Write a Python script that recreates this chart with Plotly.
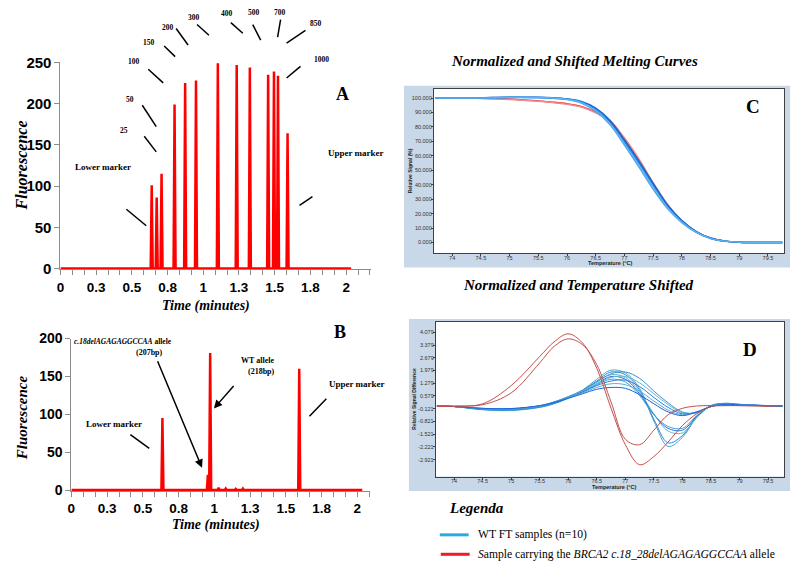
import plotly.graph_objects as go

# ---------------- data ----------------
time_tickvals = [0, 0.25, 0.5, 0.75, 1.0, 1.25, 1.5, 1.75, 2.0]
time_ticktext = ["0", "0.3", "0.5", "0.8", "1", "1.3", "1.5", "1.8", "2"]
run_end = 2.035

# Panel A: size ladder
ladder_times = [0.639, 0.674, 0.708, 0.799, 0.873, 0.949, 1.102, 1.234, 1.326, 1.454, 1.495, 1.523, 1.590]
ladder_fluor = [101, 86, 115, 199, 225, 228, 249, 247, 244, 235, 239, 234, 164]
ladder_labels = ["Lower marker", "25", "50", "100", "150", "200", "300", "400", "500",
                 "700", "850", "1000", "Upper marker"]

# Panel B: sample
sample_times = [0.637, 0.955, 0.971, 1.03, 1.08, 1.15, 1.20, 1.594]
sample_fluor = [95, 20, 181, 3, 2, 1.5, 2, 160]

# Panels C and D: temperatures
temps = [73.7, 74.0, 74.5, 75.0, 75.5, 75.75, 76.0, 76.25, 76.5, 76.75, 77.0,
         77.25, 77.5, 77.75, 78.0, 78.25, 78.5, 78.75, 79.0, 79.5, 79.75]

# Panel C: normalized melting curves (%)
melt_wt = [
    [100, 100, 100.2, 100.5, 100.4, 100.1, 99.3, 97.2, 92.0, 83.0, 69.5, 55.0, 39.5, 25.0, 14.5, 7.3, 3.0, 1.0, 0.3, 0.0, 0.0],
    [100, 100, 100.1, 100.4, 100.3, 99.9, 99.0, 96.6, 91.0, 81.5, 67.5, 52.5, 37.0, 23.5, 13.8, 7.0, 2.8, 0.9, 0.3, 0.0, 0.0],
    [100, 100, 100.2, 100.6, 100.5, 100.2, 99.5, 97.6, 93.0, 84.5, 71.0, 56.5, 41.0, 26.0, 15.2, 7.6, 3.1, 1.0, 0.3, 0.0, 0.0],
    [100, 100, 100.1, 100.5, 100.4, 100.0, 99.2, 97.0, 91.6, 82.2, 68.5, 54.0, 38.5, 24.3, 14.2, 7.2, 2.9, 1.0, 0.3, 0.0, 0.0],
]
melt_mut = [
    [100, 100, 99.9, 99.3, 98.0, 97.2, 96.1, 94.2, 90.2, 83.5, 71.5, 57.0, 41.0, 26.0, 15.0, 7.5, 3.0, 1.0, 0.3, 0.0, 0.0],
    [100, 100, 99.8, 99.1, 97.8, 96.9, 95.8, 93.8, 89.8, 84.5, 72.5, 58.0, 41.5, 26.5, 15.2, 7.6, 3.1, 1.0, 0.3, 0.0, 0.0],
]

# Panel D: difference curves
diff_wt = [
    [0.03, 0.0, -0.18, -0.22, -0.05, 0.15, 0.45, 0.90, 1.50, 2.00, 1.85, 1.00, -0.80, -2.20, -1.70, -0.60, 0.05, 0.18, 0.12, 0.05, 0.02],
    [0.03, 0.0, -0.16, -0.20, -0.03, 0.17, 0.48, 0.88, 1.40, 1.90, 1.75, 0.90, -0.70, -2.00, -1.60, -0.55, 0.05, 0.17, 0.12, 0.05, 0.02],
    [0.03, 0.0, -0.15, -0.18, 0.00, 0.20, 0.50, 0.85, 1.35, 1.75, 1.60, 0.80, -0.40, -1.35, -1.45, -0.60, 0.03, 0.16, 0.10, 0.04, 0.02],
    [0.03, 0.0, -0.14, -0.17, 0.00, 0.20, 0.48, 0.80, 1.25, 1.65, 1.50, 0.70, -0.45, -1.20, -1.30, -0.55, 0.03, 0.15, 0.10, 0.04, 0.02],
    [0.03, 0.0, -0.13, -0.15, 0.02, 0.22, 0.50, 0.80, 1.20, 1.50, 1.35, 0.60, -0.45, -1.10, -1.20, -0.50, 0.03, 0.15, 0.10, 0.04, 0.02],
    [0.03, 0.0, -0.12, -0.15, 0.03, 0.25, 0.55, 0.90, 1.35, 1.80, 1.90, 1.55, 0.85, 0.20, -0.30, -0.35, 0.00, 0.14, 0.10, 0.04, 0.02],
    [0.03, 0.0, -0.12, -0.14, 0.03, 0.25, 0.52, 0.85, 1.25, 1.60, 1.65, 1.30, 0.70, 0.10, -0.35, -0.35, 0.00, 0.13, 0.10, 0.04, 0.02],
    [0.03, 0.0, -0.11, -0.13, 0.04, 0.24, 0.50, 0.80, 1.15, 1.40, 1.45, 1.10, 0.50, -0.05, -0.40, -0.30, 0.00, 0.13, 0.09, 0.04, 0.02],
    [0.03, 0.0, -0.10, -0.12, 0.04, 0.23, 0.48, 0.75, 1.05, 1.25, 1.20, 0.85, 0.30, -0.20, -0.45, -0.30, 0.00, 0.12, 0.09, 0.04, 0.02],
    [0.03, 0.0, -0.10, -0.11, 0.05, 0.22, 0.45, 0.70, 0.95, 1.05, 1.00, 0.65, 0.15, -0.30, -0.50, -0.30, 0.00, 0.12, 0.09, 0.04, 0.02],
]
diff_mut = [
    [0.0, 0.02, 0.15, 1.15, 2.75, 3.55, 4.00, 3.50, 2.10, -0.10, -2.10, -3.20, -2.75, -1.95, -1.05, -0.40, 0.00, 0.05, 0.05, 0.03, 0.05],
    [0.0, 0.02, 0.10, 0.75, 2.40, 3.30, 3.72, 3.40, 2.30, 0.25, -1.80, -2.10, -1.30, -0.45, -0.10, 0.03, 0.05, 0.05, 0.05, 0.03, 0.05],
]
diff_tickvals = [4.079, 3.379, 2.679, 1.979, 1.279, 0.579, -0.121, -0.821, -1.521, -2.221, -2.921]

# ---------------- helpers ----------------
W, H = 790, 571


def X(px):
    return px / W


def Y(py):
    return 1 - py / H


def spikes(times, heights, end, half=0.007):
    xs, ys = [0.0], [0.0]
    for t, h in zip(times, heights):
        xs += [t - half, t, t + half]
        ys += [0, h, 0]
    xs.append(end)
    ys.append(0)
    return xs, ys


SERIF = "Liberation Serif"
SANS = "Liberation Sans"
RED = "#ff0000"

fig = go.Figure()

ax, ay = spikes(ladder_times, ladder_fluor, run_end)
fig.add_trace(go.Scatter(x=ax, y=ay, mode="lines", line=dict(color=RED, width=2.5),
                         xaxis="x", yaxis="y", showlegend=False))
bx, by = spikes(sample_times, sample_fluor, run_end)
fig.add_trace(go.Scatter(x=bx, y=by, mode="lines", line=dict(color=RED, width=2.5),
                         xaxis="x2", yaxis="y2", showlegend=False))

c_mut_cols = ["#e8323a", "#f08a8a"]
for i, ys in enumerate(melt_mut):
    fig.add_trace(go.Scatter(x=temps, y=ys, mode="lines", line=dict(color=c_mut_cols[i], width=1.5, shape="spline"),
                             xaxis="x3", yaxis="y3", showlegend=False))
c_wt_cols = ["#1c78e0", "#49a4ee", "#1466d4", "#5cb4f0"]
for i, ys in enumerate(melt_wt):
    fig.add_trace(go.Scatter(x=temps, y=ys, mode="lines", line=dict(color=c_wt_cols[i], width=1.5, shape="spline"),
                             xaxis="x3", yaxis="y3", showlegend=False))

d_wt_cols = ["#4aa6c8", "#2f86d8", "#5fb6cc", "#1f6fe0", "#48a0d0",
             "#3a92d4", "#62b8cf", "#2a7ddc", "#55aed0", "#1b64dc"]
for i, ys in enumerate(diff_wt):
    fig.add_trace(go.Scatter(x=temps, y=ys, mode="lines", line=dict(color=d_wt_cols[i], width=1, shape="spline"),
                             xaxis="x4", yaxis="y4", showlegend=False))
for ys in diff_mut:
    fig.add_trace(go.Scatter(x=temps, y=ys, mode="lines", line=dict(color="#c0504d", width=1, shape="spline"),
                             xaxis="x4", yaxis="y4", showlegend=False))

GRAY = "#8c8c8c"
time_axis = dict(range=[0, 2.175], tickmode="array", tickvals=time_tickvals, ticktext=time_ticktext,
                 showline=True, linecolor=GRAY, linewidth=1, ticks="outside", ticklen=5, tickcolor=GRAY,
                 minor=dict(tickmode="linear", tick0=0, dtick=1 / 12, ticks="outside", ticklen=5, tickcolor=GRAY),
                 tickfont=dict(family=SANS, size=13.5, color="black", weight="bold"),
                 showgrid=False, zeroline=False, fixedrange=True)
fluor_axis = dict(showline=True, linecolor=GRAY, linewidth=1, ticks="outside", ticklen=5, tickcolor=GRAY,
                  showgrid=False, zeroline=False, fixedrange=True)

BOXLINE = "#404040"
temp_axis = dict(range=[73.68, 79.78], tick0=74, dtick=0.5, showline=True, mirror=True, linecolor=BOXLINE,
                 linewidth=1, ticks="outside", ticklen=2, tickcolor=BOXLINE, ticklabelstandoff=-3,
                 tickfont=dict(family=SANS, size=5.5, color="#333"), showgrid=False, zeroline=False)
sig_axis = dict(showline=True, mirror=True, linecolor=BOXLINE, linewidth=1,
                ticks="outside", ticklen=2, tickcolor=BOXLINE, ticklabelstandoff=-2,
                tickfont=dict(family=SANS, size=5.5, color="#333"), showgrid=False, zeroline=False)

fig.update_layout(
    width=W, height=H, margin=dict(l=0, r=0, t=0, b=0),
    paper_bgcolor="white", plot_bgcolor="white",
    xaxis=dict(domain=[X(56.7), X(369)], anchor="y", **time_axis),
    yaxis=dict(domain=[Y(268), Y(55)], anchor="x", range=[-1.2, 250], tickvals=[0, 50, 100, 150, 200, 250],
               tickfont=dict(family=SANS, size=15, color="black", weight="bold"), **fluor_axis),
    xaxis2=dict(domain=[X(67.7), X(368)], anchor="y2", **{**time_axis, "range": [0, 2.09]}),
    yaxis2=dict(domain=[Y(496), Y(339)], anchor="x2", range=[-1.3, 200], tickvals=[0, 50, 100, 150, 200],
                tickfont=dict(family=SANS, size=14, color="black", weight="bold"), **fluor_axis),
    xaxis3=dict(domain=[X(432), X(784)], anchor="y3", **temp_axis),
    yaxis3=dict(domain=[Y(251), Y(82)], anchor="x3", range=[-7.2, 106.5], tick0=0, dtick=10,
                tickformat=".3f", **sig_axis),
    xaxis4=dict(domain=[X(434), X(784)], anchor="y4", **temp_axis),
    yaxis4=dict(domain=[Y(481), Y(322)], anchor="x4", range=[-3.85, 4.65], tickmode="array",
                tickvals=diff_tickvals, ticktext=["%.3f" % v for v in diff_tickvals], **sig_axis),
)

shapes = []
annotations = []

# background boxes for C and D, with white plotting areas
BOX = "#c8d8e8"
shapes.append(dict(type="rect", xref="paper", yref="paper", x0=X(402), x1=X(790), y0=Y(266), y1=Y(79),
                   fillcolor=BOX, line=dict(width=0), layer="below"))
shapes.append(dict(type="rect", xref="paper", yref="paper", x0=X(407), x1=X(790), y0=Y(496), y1=Y(319),
                   fillcolor=BOX, line=dict(width=0), layer="below"))
shapes.append(dict(type="rect", xref="x3 domain", yref="y3 domain", x0=0, x1=1, y0=0, y1=1,
                   fillcolor="white", line=dict(width=0), layer="below"))
shapes.append(dict(type="rect", xref="x4 domain", yref="y4 domain", x0=0, x1=1, y0=0, y1=1,
                   fillcolor="white", line=dict(width=0), layer="below"))


def txt(text, x, y, size, family=SERIF, anchor="center", angle=0, color="black"):
    annotations.append(dict(text=text, x=X(x), y=Y(y), xref="paper", yref="paper", showarrow=False,
                            xanchor=anchor, yanchor="middle", textangle=angle,
                            font=dict(family=family, size=size, color=color)))


def seg(x0, y0, x1, y1, color="black", width=1.5):
    shapes.append(dict(type="line", xref="paper", yref="paper", x0=X(x0), y0=Y(y0), x1=X(x1), y1=Y(y1),
                       line=dict(color=color, width=width)))


# Panel A labels
label_pos = [(100, 163), (121, 125), (127, 93), (131, 54), (146, 34), (165, 19), (191, 9),
             (224, 5), (251, 4), (277, 4), (314, 15), (319, 52), (354, 148)]
leader = [(123, 206, 143, 223), (141, 131, 153, 147), (139, 99, 153, 121), (145, 62, 160, 76),
          (161, 38, 172, 49), (173, 20, 185, 37), (194, 16, 206, 27), (228, 14, 240, 25),
          (250, 16, 258, 32), (278, 11, 275, 29), (303, 22, 284, 35), (298, 59, 284, 71),
          (310, 193, 297, 202)]
for lab, (px_, py_), ln in zip(ladder_labels, label_pos, leader):
    size = 9 if "marker" in lab else 7.5
    txt("<b>%s</b>" % lab, px_, py_, size)
    seg(*ln)

txt("<b>A</b>", 340, 87, 18)
txt("<b><i>Fluorescence</i></b>", 18, 161, 16, angle=-90)
txt("<b><i>Time (minutes)</i></b>", 203, 306, 14)

# Panel B labels
txt("<b><i>c.18delAGAGAGGCCAA</i> allele</b>", 120, 342, 7.5)
txt("<b>(207bp)</b>", 146, 353, 8)
txt("<b>WT allele</b>", 255, 362, 8)
txt("<b>(218bp)</b>", 259, 373, 8)
txt("<b>Lower marker</b>", 111, 427, 9)
txt("<b>Upper marker</b>", 355, 386, 9)
seg(127, 438, 146, 452)
seg(324, 401, 307, 419)
txt("<b>B</b>", 338, 332, 18)
txt("<b><i>Fluorescence</i></b>", 18, 420, 15, angle=-90)
txt("<b><i>Time (minutes)</i></b>", 213, 531, 14)

for (x0, y0, x1, y1) in [(154, 364, 199, 472), (232, 387, 211, 411)]:
    annotations.append(dict(text="", x=X(x1), y=Y(y1), xref="paper", yref="paper", showarrow=True,
                            ax=x0 - x1, ay=y0 - y1, axref="pixel", ayref="pixel",
                            arrowhead=2, arrowsize=1.1, arrowwidth=1.5, arrowcolor="black"))

# Panel C / D titles and labels
txt("<b><i>Normalized and Shifted Melting Curves</i></b>", 573, 53, 15)
txt("<b><i>Normalized and Temperature Shifted</i></b>", 577, 284, 15)
txt("<b>C</b>", 753, 100, 19)
txt("<b>D</b>", 750, 350, 19)
txt("<b>Temperature (°C)</b>", 609, 261.5, 5.5, family=SANS, color="#222")
txt("<b>Temperature (°C)</b>", 613, 491.5, 5.5, family=SANS, color="#222")
txt("<b>Relative Signal (%)</b>", 408, 166, 5, family=SANS, angle=-90, color="#222")
txt("<b>Relative Signal Difference</b>", 412, 401, 5, family=SANS, angle=-90, color="#222")

# Legend
txt("<b><i>Legenda</i></b>", 475, 513, 15)
seg(438, 541, 467, 541, color="#29abe2", width=3)
seg(439, 561, 468, 561, color="#ed1c24", width=3)
txt("WT FT samples (n=10)", 474, 541, 11.6, anchor="left")
txt("<i>S</i>ample carrying the <i>BRCA2 c.18_28delAGAGAGGCCAA</i> allele", 474, 561, 11.6, anchor="left")

fig.update_layout(shapes=shapes, annotations=annotations)
fig.write_html("out.html", config={"displayModeBar": False},
               post_script="document.body.style.margin='0px';")
